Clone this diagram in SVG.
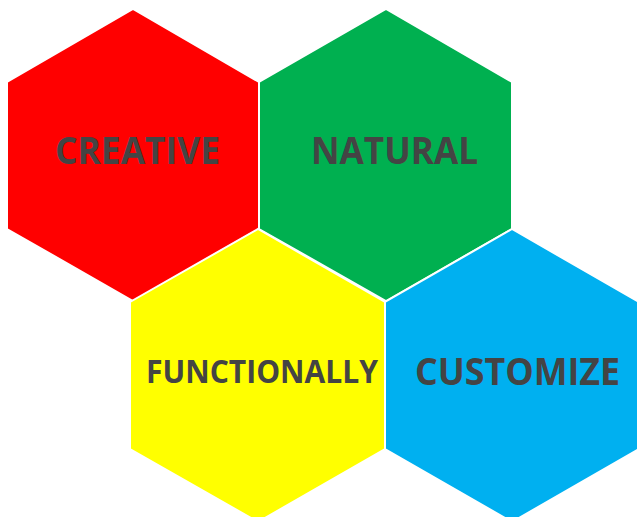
<svg xmlns="http://www.w3.org/2000/svg" width="637" height="517" viewBox="0 0 637 517">
<style>
.hex{stroke:#ffffff;stroke-width:2;stroke-linejoin:miter}
.lbl{font-family:"Open Sans","Liberation Sans",sans-serif;font-weight:bold;fill:#444444}
</style>
<rect width="637" height="517" fill="#ffffff"/>
<g id="connectors"></g>
<g id="creative">
<polygon class="hex" fill="#ff0000" points="133,9 259,82 259,229 133,301 7,229 7,82"/>
<text class="lbl" x="55" y="164" font-size="37" textLength="165" lengthAdjust="spacingAndGlyphs">CREATIVE</text>
</g>
<g id="natural">
<polygon class="hex" fill="#00b050" points="386,9 512,82 512,229 386,301 259,229 259,82"/>
<text class="lbl" x="311" y="164" font-size="37" textLength="167" lengthAdjust="spacingAndGlyphs">NATURAL</text>
</g>
<g id="functionally">
<polygon class="hex" fill="#ffff00" points="258,229 385,302 385,449 258,522 130,449 130,302"/>
<text class="lbl" x="146" y="383" font-size="33" textLength="232" lengthAdjust="spacingAndGlyphs">FUNCTIONALLY</text>
</g>
<g id="customize">
<polygon class="hex" fill="#00b0f0" points="512,229 639,302 639,449 512,522 385,449 385,302"/>
<text class="lbl" x="415" y="385" font-size="37" textLength="205" lengthAdjust="spacingAndGlyphs">CUSTOMIZE</text>
</g>
</svg>
